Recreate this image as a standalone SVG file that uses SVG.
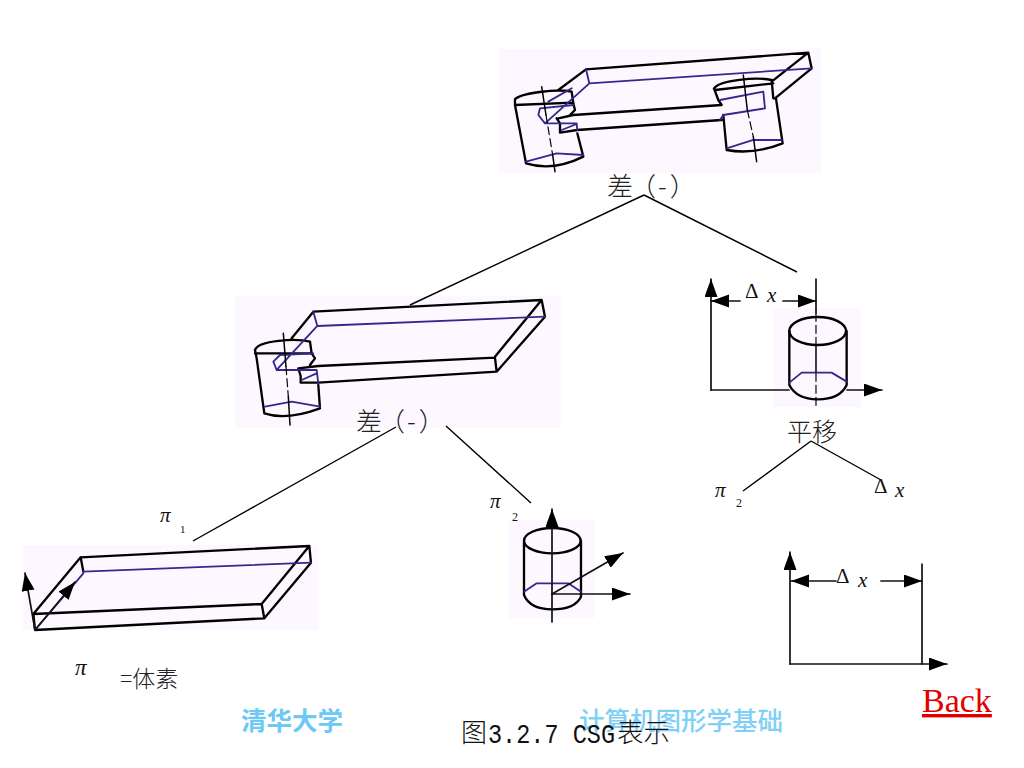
<svg xmlns="http://www.w3.org/2000/svg" width="1024" height="768" viewBox="0 0 1024 768">
<style>
.bg{fill:#fdf8ff;stroke:none}
.k,.b,.t,.d,.a{fill:none;stroke-linejoin:round;stroke-linecap:round}
.k{stroke:#000;stroke-width:7}
.t{stroke:#000;stroke-width:4.5}
.b{stroke:#33288c;stroke-width:5.5}
.d{stroke:#000;stroke-width:3.5;stroke-dasharray:24 12}
.a{stroke:#111;stroke-width:1.7}
.c{fill:none;stroke:#000;stroke-width:1.4}
.ah{marker-end:url(#h)}
.cj{font-family:"Noto Sans CJK SC",sans-serif;fill:#222}
.r{font-family:"Liberation Serif",serif;fill:#111}
.i{font-style:italic}
.m{font-family:"Liberation Mono",monospace;fill:#111}
</style>
<defs>
<marker id="h" markerUnits="userSpaceOnUse" markerWidth="20" markerHeight="14" refX="18" refY="6.5" orient="auto"><path d="M0 0L18 6.5L0 13z" fill="#000"/></marker>
</defs>
<g id="top-solid"><rect class="bg" x="499" y="49" width="322" height="124"/>
<g transform="translate(490 40) scale(.3333)">
<path class="k" d="M288 88L955 38L965 85L855 175M955 38L845 125M288 88L205 150M205 235L250 225L695 195M200 235L210 250V278L262 270L695 240M75 178C90 160 200 145 245 155L250 190L255 210L240 225M75 195L250 188M75 178V195L108 370Q190 395 280 350L262 280M672 145C690 120 800 110 845 120L850 175L858 175L878 310Q790 345 710 330L700 225M672 145L685 180L695 195M675 150L850 130"/>
<path class="b" d="M288 88L298 130L965 85M298 130L165 250M150 205L250 195M150 205L145 225L165 250H260L262 270M215 270L260 252M175 185L245 145M108 365L200 340L280 345M690 180L820 155L825 205L700 225L690 240M710 325L790 300L875 300"/>
<path class="t" d="M155 140L168 225M188 345L195 395M760 105L772 210M790 290L800 365"/>
<path class="d" d="M168 225L188 345M772 210L790 290"/>
</g></g>
<g id="middle-solid"><rect class="bg" x="235" y="296" width="326" height="132"/>
<g transform="translate(230 290) scale(.3333)">
<path class="k" d="M250 65L935 30L945 80L800 245L265 278H212V258L205 235L265 228L795 203L800 245M935 30L795 200M250 65L185 145M75 180C85 150 200 145 240 155L245 190L255 205L240 225M75 190L245 190M75 180L80 205L103 370Q170 392 270 355L265 285"/>
<path class="b" d="M250 65L262 108L945 80M262 108L140 240H260L265 280M140 240L130 215L150 195L250 190M215 270L260 250M105 350L185 335L270 350"/>
<path class="t" d="M160 130L168 230M175 320L180 405"/>
<path class="d" d="M168 230L175 320"/>
</g></g>
<g id="translate-cylinder"><rect class="bg" x="773" y="308" width="88" height="99"/>
<g transform="translate(690 270) scale(.3333)">
<ellipse class="k" cx="383" cy="183" rx="85" ry="42"/>
<path class="k" d="M298 183V345Q320 388 383 388Q450 388 470 345V183"/>
<path class="b" d="M298 338L335 308H425L470 335"/>
<path class="t" d="M378 225V305"/>
<path class="d" d="M378 130V225M378 310V410"/>
</g>
<path class="ah a" d="M711 390V279"/>
<path class="a" d="M711 390H789"/><path class="ah a" d="M847 390H882"/>
<path class="ah a" d="M740 301H711"/><path class="ah a" d="M783 301H816"/>
<path class="a" d="M816 279V313"/>
<text class="r" x="745" y="298" font-size="21">Δ</text><text class="r i" x="767" y="302" font-size="21">x</text>
</g>
<g id="plate-primitive"><rect class="bg" x="23" y="545" width="295" height="85"/>
<g transform="translate(15 500) scale(.3333)">
<path class="k" d="M197 172L883 138L888 188L748 355L60 390L55 342L740 312L748 355M197 172L55 342M883 138L740 312M197 172L205 215"/>
<path class="b" d="M205 215L888 188M205 220L60 390"/>
</g>
<path class="ah a" d="M35 630L75 582"/><path class="ah a" d="M35 630L25 573"/>
</g>
<g id="cylinder-primitive"><rect class="bg" x="508" y="520" width="87" height="98"/>
<g transform="translate(480 490) scale(.3333)">
<ellipse class="k" cx="217" cy="152" rx="85" ry="38"/>
<path class="k" d="M132 152V315Q150 358 217 358Q285 358 303 320V152"/>
<path class="b" d="M132 305L170 280H265L303 305"/>
</g>
<path class="ah a" d="M552 622V509"/><path class="ah a" d="M552 594H630"/><path class="ah a" d="M552 594L623 553"/>
</g>
<g id="translation-vector">
<path class="ah a" d="M790 664V552"/><path class="ah a" d="M790 664H947"/><path class="a" d="M922 564V664"/>
<path class="ah a" d="M836 581H791"/><path class="ah a" d="M881 581H922"/>
<text class="r" x="836" y="583" font-size="21">Δ</text><text class="r i" x="858" y="587" font-size="21">x</text>
</g>
<g id="connectors">
<path class="c" d="M644 195L410 305M644 195L797 272M396 427L193 541M446 426L531 503M811 441L743 491M811 441L881 480"/>
</g>
<g id="labels">
<text class="cj" x="607" y="196" font-size="26" font-weight="300">差<tspan dx="-3">（</tspan><tspan dx="2">-</tspan><tspan dx="3">）</tspan></text>
<text class="cj" x="356" y="431" font-size="26" font-weight="300">差<tspan dx="-3">（</tspan><tspan dx="2">-</tspan><tspan dx="3">）</tspan></text>
<text class="cj" x="787" y="441" font-size="25" font-weight="300">平移</text>
<text class="r i" x="160" y="522" font-size="21">π</text><text class="r" x="180" y="533" font-size="11">1</text>
<text class="r i" x="490" y="508" font-size="21">π</text><text class="r" x="512" y="521" font-size="12">2</text>
<text class="r i" x="715" y="497" font-size="21">π</text><text class="r" x="736" y="507" font-size="12">2</text>
<text class="r" x="874" y="493" font-size="21">Δ</text><text class="r i" x="895" y="497" font-size="21">x</text>
<text class="r i" x="75" y="675" font-size="23">π</text>
<text class="cj" x="120" y="687" font-size="23" font-weight="300">=体素</text>
</g>
<g id="footer">
<text class="cj" x="241" y="730" font-size="25.5" font-weight="700" style="fill:#6cc8f5">清华大学</text>
<text class="cj" x="579" y="730" font-size="25.5" font-weight="500" style="fill:#7fd0f7">计算机图形学基础</text>
<text class="cj" x="461" y="742" font-size="26" font-weight="300" style="fill:#111">图</text>
<text class="m" x="488" y="743" font-size="27" textLength="127" lengthAdjust="spacingAndGlyphs">3.2.7 CSG</text>
<text class="cj" x="617" y="742" font-size="26.5" font-weight="300" style="fill:#111">表示</text>
<text x="922" y="712" font-size="34" font-family="Liberation Serif, serif" fill="#e00000" text-decoration="underline">Back</text>
</g>
</svg>
